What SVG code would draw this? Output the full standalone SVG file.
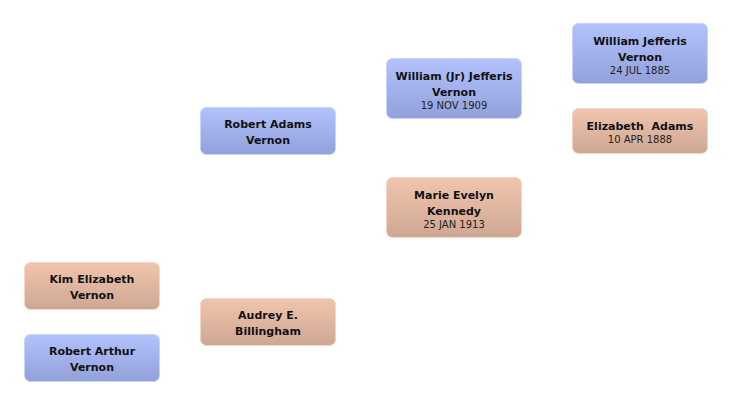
<svg xmlns="http://www.w3.org/2000/svg" width="732" height="406" viewBox="0 0 732 406">
<defs>
<linearGradient id="gm" x1="0" y1="0" x2="0" y2="1">
<stop offset="0" stop-color="#b2c2fd"/>
<stop offset="1" stop-color="#93a1da"/>
</linearGradient>
<linearGradient id="gf" x1="0" y1="0" x2="0" y2="1">
<stop offset="0" stop-color="#f1c5ad"/>
<stop offset="1" stop-color="#cea793"/>
</linearGradient>
</defs>
<style>
.m{fill:url(#gm);stroke:#c8d2fb;stroke-width:1}
.f{fill:url(#gf);stroke:#f2d6c8;stroke-width:1}
.n{font-family:"DejaVu Sans",sans-serif;font-size:11px;font-weight:bold;fill:#111;text-anchor:middle;white-space:pre}
.d{font-family:"DejaVu Sans",sans-serif;font-size:10px;fill:#222;text-anchor:middle}
</style>
<rect width="732" height="406" fill="#fff"/>
<g id="connectors"></g>
<g id="william-jefferis-vernon">
<rect class="m" x="572.5" y="23.5" width="135" height="60" rx="6"/>
<text class="n" x="640" y="44.5">William Jefferis</text>
<text class="n" x="640" y="60.5">Vernon</text>
<text class="d" x="640" y="74">24 JUL 1885</text>
</g>
<g id="elizabeth-adams">
<rect class="f" x="572.5" y="108.5" width="135" height="45" rx="6"/>
<text class="n" x="640" y="129.5" xml:space="preserve">Elizabeth  Adams</text>
<text class="d" x="640" y="143">10 APR 1888</text>
</g>
<g id="william-jr-jefferis-vernon">
<rect class="m" x="386.5" y="58.5" width="135" height="60" rx="6"/>
<text class="n" x="454" y="79.5">William (Jr) Jefferis</text>
<text class="n" x="454" y="95.5">Vernon</text>
<text class="d" x="454" y="108.5">19 NOV 1909</text>
</g>
<g id="marie-evelyn-kennedy">
<rect class="f" x="386.5" y="177.5" width="135" height="60" rx="6"/>
<text class="n" x="454" y="198.5">Marie Evelyn</text>
<text class="n" x="454" y="214.5">Kennedy</text>
<text class="d" x="454" y="228">25 JAN 1913</text>
</g>
<g id="robert-adams-vernon">
<rect class="m" x="200.5" y="107.5" width="135" height="47" rx="6"/>
<text class="n" x="268" y="127.5">Robert Adams</text>
<text class="n" x="268" y="143.5">Vernon</text>
</g>
<g id="audrey-billingham">
<rect class="f" x="200.5" y="298.5" width="135" height="47" rx="6"/>
<text class="n" x="268" y="318.5">Audrey E.</text>
<text class="n" x="268" y="334.5">Billingham</text>
</g>
<g id="kim-elizabeth-vernon">
<rect class="f" x="24.5" y="262.5" width="135" height="47" rx="6"/>
<text class="n" x="92" y="282.5">Kim Elizabeth</text>
<text class="n" x="92" y="298.5">Vernon</text>
</g>
<g id="robert-arthur-vernon">
<rect class="m" x="24.5" y="334.5" width="135" height="47" rx="6"/>
<text class="n" x="92" y="354.5">Robert Arthur</text>
<text class="n" x="92" y="370.5">Vernon</text>
</g>
</svg>
